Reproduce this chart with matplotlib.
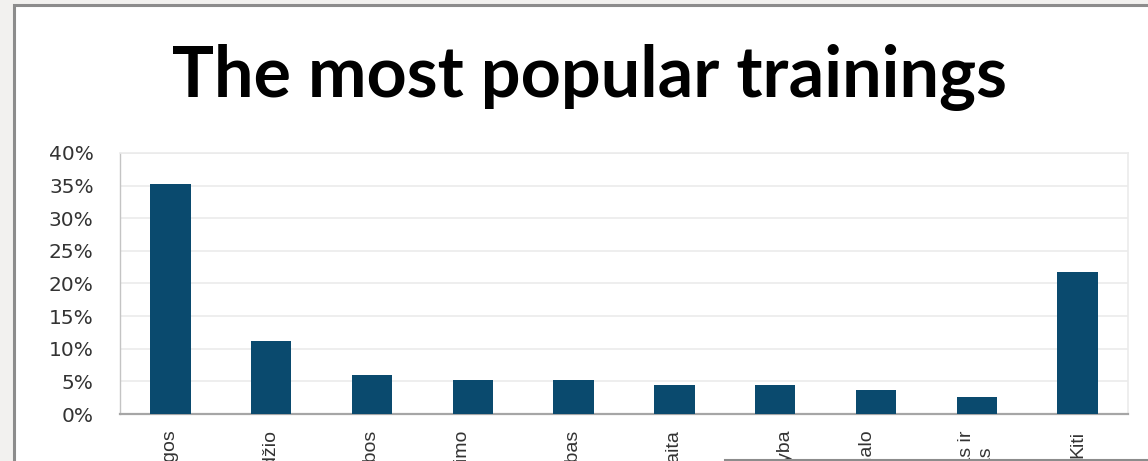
import matplotlib
matplotlib.use("Agg")
import matplotlib.pyplot as plt
from matplotlib.patches import Rectangle
from matplotlib.lines import Line2D
from matplotlib.ticker import PercentFormatter, MultipleLocator

# Training categories (Lithuanian) and share of respondents, %
categories = [
    "Darbuotojų saugos",
    "Asmeninio įvaizdžio",
    "Užsienio kalbos",
    "Efektyvaus laiko planavimo\nir valdymo",
    "Komandinis darbas",
    "Buhalterinė apskaita",
    "IT\nProjektų vadyba",
    "Žmogiškųjų išteklių ir personalo\nvaldymas",
    "Viešasis kalbėjimas ir\npristatymų menas",
    "Kiti",
]
shares = [35.2, 11.2, 6.0, 5.2, 5.2, 4.5, 4.5, 3.7, 2.6, 21.7]
title = "The most popular trainings"
y_max = 40

bar_color = "#0a4a6e"
text_color = "#333333"

fig = plt.figure(figsize=(11.48, 4.61), dpi=100)
fig.patch.set_facecolor("#f2f1ef")

# white slide panel with grey frame
W, H = 1148, 461
panel = Rectangle((14 / W, -0.05), 1.1, 1 - 5 / H + 0.05,
                  transform=fig.transFigure, facecolor="white",
                  edgecolor="#8c8c8c", linewidth=2.2, zorder=-5)
fig.patches.append(panel)
fig.lines.append(Line2D([725 / W, 1.0], [1.5 / H, 1.5 / H],
                        transform=fig.transFigure, color="#8c8c8c",
                        linewidth=1.5, zorder=5))

ax = fig.add_axes([120 / W, 1 - 414 / H, (1128 - 120) / W, (414 - 153) / H])
ax.set_zorder(1)
ax.set_facecolor("white")

x = range(len(categories))
ax.bar(x, shares, width=0.4, color=bar_color, zorder=3)

ax.set_xlim(-0.5, len(categories) - 0.5)
ax.set_ylim(0, y_max)
ax.yaxis.set_major_locator(MultipleLocator(5))
ax.yaxis.set_major_formatter(PercentFormatter(decimals=0))
ax.grid(axis="y", color="#ebebeb", linewidth=1.2, zorder=0)

for side in ("top", "right"):
    ax.spines[side].set_color("#ebebeb")
    ax.spines[side].set_linewidth(1.2)
ax.spines["left"].set_color("#c4c4c4")
ax.spines["left"].set_linewidth(1.0)
ax.spines["bottom"].set_color("#a6a6a6")
ax.spines["bottom"].set_linewidth(1.6)

ax.tick_params(axis="y", length=0, pad=19, labelsize=14.5,
               labelcolor=text_color)
ax.tick_params(axis="x", length=0, pad=12)
ax.set_xticks(list(x))
ax.set_xticklabels(categories, rotation=90, ha="center", va="top",
                   multialignment="center", fontsize=14, linespacing=1.25,
                   color=text_color, family="Liberation Sans")
for lbl in ax.get_yticklabels():
    lbl.set_family("DejaVu Sans")

fig.text(590 / W, 1 - 97 / H, title, ha="center", va="baseline",
         fontsize=50.5, fontweight="bold", family="Lato", color="black",
         zorder=6)

fig.savefig("out.png", dpi=100, facecolor=fig.get_facecolor())
